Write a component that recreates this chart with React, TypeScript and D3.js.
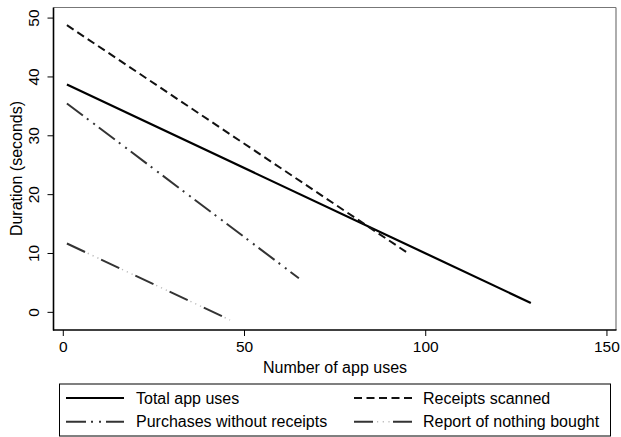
import React from "react";
import * as d3 from "d3";

// ---- data ----
const seriesNames = ["Total app uses", "Receipts scanned", "Purchases without receipts", "Report of nothing bought"];
const totalX = [1, 129];
const totalY = [38.7, 1.6];
const receiptsX = [1, 95];
const receiptsY = [48.8, 10.1];
const purchasesX = [1, 65];
const purchasesY = [35.5, 5.8];
const nothingX = [1, 46];
const nothingY = [11.7, -1.3];
const xTicks = [0, 50, 100, 150];
const yTicks = [0, 10, 20, 30, 40, 50];
const xTitle = "Number of app uses";
const yTitle = "Duration (seconds)";

const W = 621;
const H = 437;
const FONT = "'Liberation Sans', Arial, Helvetica, sans-serif";

const x = d3.scaleLinear().domain([-2.7, 152.5]).range([53.5, 616]);
const y = d3.scaleLinear().domain([-3, 51.8]).range([330, 7.5]);

type Pt = [number, number];
const toPts = (xs: number[], ys: number[]): Pt[] => xs.map((v, i) => [v, ys[i]] as Pt);
const line = d3
  .line<Pt>()
  .x((d) => x(d[0]))
  .y((d) => y(d[1]));

const styles = [
  { stroke: "#000", dash: undefined as string | undefined, width: 2.2 },
  { stroke: "#111", dash: "8 4.5", width: 2 },
  { stroke: "#333", dash: "20 5 2 6 2 5", width: 2 },
  { stroke: "#333", dash: "20 17.8", width: 2 },
];

const seriesPts = [
  toPts(totalX, totalY),
  toPts(receiptsX, receiptsY),
  toPts(purchasesX, purchasesY),
  toPts(nothingX, nothingY),
];

export default function App() {
  const legendItems = [
    { i: 0, lx: 66, tx: 136, by: 403.5, ly: 398 },
    { i: 1, lx: 354, tx: 423, by: 403.5, ly: 398 },
    { i: 2, lx: 66, tx: 136, by: 427, ly: 421.7 },
    { i: 3, lx: 354, tx: 423, by: 427, ly: 421.7 },
  ];
  return (
    <svg
      width={W}
      height={H}
      style={{ position: "absolute", left: 0, top: 0, background: "#fff" }}
      fontFamily={FONT}
    >
      <rect x={0} y={0} width={W} height={H} fill="#fff" />
      {/* plot frame */}
      <line x1={53.5} x2={616} y1={7.5} y2={7.5} stroke="#777" strokeWidth={1.2} />
      <line x1={616} x2={616} y1={7.5} y2={330} stroke="#777" strokeWidth={1.2} />

      {/* series */}
      {seriesPts.map((pts, i) => (
        <path
          key={i}
          d={line(pts) || ""}
          fill="none"
          stroke={styles[i].stroke}
          strokeWidth={styles[i].width}
          strokeDasharray={styles[i].dash}
        />
      ))}
      {/* light dots of "nothing bought" */}
      <path
        d={line(seriesPts[3]) || ""}
        fill="none"
        stroke="#bbb"
        strokeWidth={1.5}
        strokeDasharray="0 23 1.2 4.1 1.2 4.1 1.2 3"
      />

      {/* axes */}
      <line x1={53.5} x2={53.5} y1={7.5} y2={330.5} stroke="#000" strokeWidth={1.6} />
      <line x1={53} x2={616.5} y1={330} y2={330} stroke="#000" strokeWidth={1.6} />
      {yTicks.map((t) => (
        <g key={"y" + t}>
          <line x1={47.5} x2={53.5} y1={y(t)} y2={y(t)} stroke="#000" strokeWidth={1} />
          <text
            transform={`translate(39,${y(t)}) rotate(-90)`}
            textAnchor="middle"
            fontSize={15.5}
            fill="#000"
          >
            {t}
          </text>
        </g>
      ))}
      {xTicks.map((t) => (
        <g key={"x" + t}>
          <line x1={x(t)} x2={x(t)} y1={330} y2={336} stroke="#000" strokeWidth={1} />
          <text x={x(t)} y={352} textAnchor="middle" fontSize={15.5} fill="#000">
            {t}
          </text>
        </g>
      ))}
      <text x={335} y={373} textAnchor="middle" fontSize={16} fill="#000">
        {xTitle}
      </text>
      <text
        transform={`translate(22,168.5) rotate(-90)`}
        textAnchor="middle"
        fontSize={16}
        fill="#000"
      >
        {yTitle}
      </text>

      {/* legend */}
      <rect x={59.5} y={384} width={551} height={52} fill="#fff" stroke="#000" strokeWidth={1} />
      {legendItems.map((it) => (
        <g key={"l" + it.i}>
          <line
            x1={it.lx}
            x2={it.lx + 58}
            y1={it.ly}
            y2={it.ly}
            stroke={styles[it.i].stroke}
            strokeWidth={styles[it.i].width}
            strokeDasharray={it.i === 3 ? "19 20 19" : styles[it.i].dash}
          />
          {it.i === 3 && (
            <line
              x1={it.lx}
              x2={it.lx + 58}
              y1={it.ly}
              y2={it.ly}
              stroke="#bbb"
              strokeWidth={1.5}
              strokeDasharray="0 23 1.2 4.5 1.2 4.5 1.2 30"
            />
          )}
          <text x={it.tx} y={it.by} fontSize={16} fill="#000">
            {seriesNames[it.i]}
          </text>
        </g>
      ))}
    </svg>
  );
}
